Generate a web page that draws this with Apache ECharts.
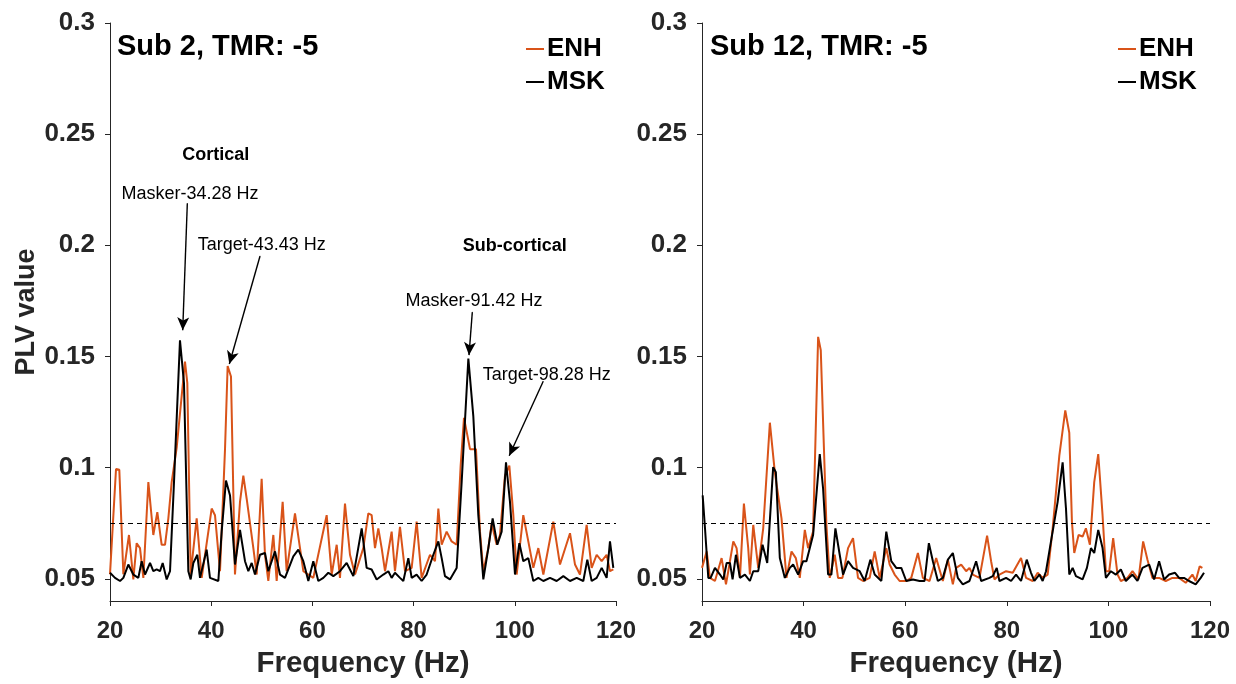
<!DOCTYPE html>
<html>
<head>
<meta charset="utf-8">
<script src="https://cdn.jsdelivr.net/npm/echarts@6/dist/echarts.min.js"></script>
<style>
html,body{margin:0;padding:0;background:#fff;}
#chart{width:1236px;height:684px;}
</style>
</head>
<body>
<div id="chart"></div>
<script>
// ---------- data (frequency Hz, PLV value) ----------
const seriesNames = ['ENH', 'MSK'];
const panelTitles = ['Sub 2, TMR: -5', 'Sub 12, TMR: -5'];
const xTicks = [20, 40, 60, 80, 100, 120];
const yTicks = [0.05, 0.1, 0.15, 0.2, 0.25, 0.3];
const chanceLevel = 0.075;

const sub2Enh = [[20.00,0.052],[21.19,0.0994],[21.84,0.099],[22.64,0.052],[23.75,0.0697],[24.61,0.0497],[25.27,0.066],[25.93,0.0638],[26.59,0.0504],[27.58,0.0935],[28.56,0.0697],[29.35,0.080],[30.21,0.0653],[30.87,0.0653],[31.53,0.0772],[32.19,0.0935],[33.18,0.109],[34.82,0.1477],[35.28,0.138],[35.94,0.052],[37.13,0.0772],[38.12,0.0504],[40.09,0.0816],[40.75,0.0786],[41.74,0.0534],[42.73,0.1083],[43.25,0.1457],[43.91,0.141],[44.70,0.0519],[45.69,0.0846],[46.35,0.0964],[47.01,0.086],[48.33,0.0638],[48.99,0.0519],[49.97,0.095],[50.63,0.0608],[51.29,0.049],[52.28,0.0697],[52.94,0.049],[54.12,0.0846],[54.91,0.0534],[56.56,0.0794],[57.55,0.0638],[58.21,0.0534],[60.18,0.0504],[62.82,0.0786],[63.81,0.0519],[64.80,0.0653],[65.45,0.0504],[66.44,0.0838],[67.43,0.0608],[68.42,0.0519],[70.06,0.0638],[71.05,0.0794],[71.71,0.0786],[72.37,0.0638],[73.03,0.0727],[73.69,0.0638],[74.35,0.0534],[75.66,0.0712],[76.32,0.0534],[77.31,0.0734],[78.30,0.0534],[79.62,0.0549],[80.60,0.0757],[81.59,0.0504],[83.24,0.0608],[84.23,0.0579],[84.89,0.0816],[85.55,0.0653],[86.53,0.0712],[87.52,0.0668],[88.51,0.0653],[89.30,0.1009],[89.96,0.1224],[91.15,0.1083],[92.33,0.1083],[93.12,0.0712],[93.78,0.0534],[94.77,0.0638],[95.43,0.0749],[96.42,0.0653],[97.07,0.0697],[98.06,0.0964],[98.92,0.1009],[99.71,0.0786],[100.37,0.0519],[101.68,0.0786],[102.67,0.0668],[103.66,0.0549],[104.65,0.0638],[105.64,0.0519],[107.61,0.0757],[108.93,0.0564],[110.91,0.0705],[111.90,0.0564],[112.88,0.0519],[114.20,0.0742],[115.19,0.0549],[116.18,0.0608],[117.17,0.0579],[118.15,0.0608],[118.81,0.0534],[119.47,0.0542]];

const sub2Msk = [[20.00,0.0527],[20.99,0.0504],[21.98,0.049],[22.64,0.0504],[23.62,0.0564],[24.61,0.0519],[25.60,0.0504],[26.26,0.0579],[26.92,0.0519],[27.91,0.0571],[28.56,0.0534],[29.22,0.0542],[29.88,0.0534],[30.41,0.0571],[31.20,0.0497],[31.86,0.0534],[32.65,0.0935],[33.83,0.1573],[34.62,0.138],[35.48,0.0534],[35.94,0.0497],[36.47,0.0571],[37.26,0.0608],[37.79,0.0504],[39.10,0.0631],[39.76,0.0504],[41.41,0.049],[42.07,0.0712],[42.92,0.0942],[43.72,0.0875],[44.70,0.0564],[45.69,0.072],[46.68,0.0579],[47.34,0.0534],[48.00,0.0571],[48.66,0.0519],[49.64,0.0608],[50.63,0.0616],[51.29,0.0534],[52.61,0.0623],[53.60,0.0519],[54.58,0.0504],[56.23,0.0601],[57.22,0.0631],[58.21,0.0579],[59.20,0.049],[60.18,0.0579],[61.17,0.049],[62.16,0.0504],[63.15,0.0527],[64.14,0.0512],[65.45,0.0534],[66.77,0.0571],[68.09,0.0512],[69.74,0.0727],[70.72,0.0549],[71.71,0.0542],[72.70,0.0497],[74.02,0.0519],[75.01,0.0534],[75.66,0.0504],[76.32,0.0527],[77.31,0.0504],[77.97,0.049],[78.96,0.0593],[79.62,0.0504],[80.60,0.0519],[81.59,0.049],[82.58,0.0519],[83.90,0.0608],[84.89,0.0668],[85.55,0.0593],[86.20,0.0512],[87.19,0.0497],[88.51,0.0549],[89.50,0.0935],[90.82,0.1491],[91.80,0.1232],[92.79,0.0786],[93.78,0.0497],[94.77,0.0638],[95.62,0.0772],[96.55,0.0653],[97.40,0.0712],[98.26,0.1024],[99.05,0.0846],[100.04,0.0519],[100.90,0.066],[101.68,0.0579],[102.67,0.0593],[103.66,0.049],[104.65,0.0504],[105.64,0.049],[106.96,0.0504],[108.27,0.049],[109.59,0.0512],[110.91,0.049],[112.23,0.0504],[113.54,0.049],[114.33,0.0586],[115.19,0.049],[116.18,0.0504],[117.17,0.0549],[118.15,0.0504],[118.81,0.0668],[119.47,0.0549]];

const sub12Enh = [[20.00,0.0549],[20.92,0.0623],[21.57,0.0504],[22.55,0.049],[23.86,0.0593],[24.72,0.0475],[25.17,0.0534],[26.16,0.0668],[26.81,0.0638],[27.47,0.0504],[28.25,0.0838],[29.10,0.0638],[29.43,0.0519],[30.09,0.0742],[31.07,0.0549],[32.05,0.0727],[33.36,0.1202],[34.34,0.0979],[35.65,0.0772],[36.63,0.0504],[37.62,0.0623],[38.47,0.0593],[39.25,0.0504],[40.24,0.072],[40.89,0.0638],[41.87,0.0712],[42.86,0.1588],[43.38,0.1528],[44.49,0.0742],[45.15,0.0504],[46.13,0.0608],[46.78,0.0504],[47.64,0.0504],[48.75,0.0638],[49.73,0.0683],[50.71,0.0504],[51.70,0.049],[53.01,0.0504],[53.99,0.0623],[54.97,0.0504],[56.28,0.0638],[56.94,0.0564],[57.92,0.0519],[58.90,0.049],[60.21,0.049],[61.19,0.0504],[62.50,0.0616],[63.48,0.0504],[64.79,0.049],[66.10,0.0593],[67.41,0.049],[68.40,0.0586],[69.38,0.0475],[70.03,0.0549],[71.02,0.0564],[72.00,0.0534],[72.65,0.0549],[73.31,0.0519],[74.62,0.0504],[76.12,0.0694],[76.91,0.0579],[77.57,0.0497],[78.55,0.0519],[79.86,0.0534],[81.17,0.0527],[82.80,0.0593],[83.79,0.0504],[85.10,0.049],[86.08,0.0527],[87.06,0.0504],[88.04,0.0519],[89.03,0.0727],[90.34,0.1054],[91.51,0.1257],[92.30,0.1157],[92.82,0.0757],[93.28,0.0616],[94.13,0.0697],[94.92,0.069],[95.57,0.0727],[96.36,0.0653],[97.21,0.0935],[98.00,0.1061],[98.85,0.0786],[99.51,0.0534],[100.16,0.0534],[100.94,0.0683],[101.80,0.0519],[102.45,0.049],[103.76,0.0504],[104.74,0.0534],[105.92,0.0497],[106.84,0.0668],[107.69,0.0586],[108.67,0.0504],[109.98,0.0504],[111.29,0.049],[112.60,0.0504],[113.91,0.0504],[115.22,0.0482],[116.53,0.0519],[117.18,0.049],[117.97,0.0556],[118.50,0.0549]];

const sub12Msk = [[20.13,0.0875],[20.59,0.0727],[21.24,0.0504],[21.70,0.0504],[22.55,0.0549],[23.54,0.0519],[24.19,0.0497],[24.85,0.0571],[25.50,0.0571],[26.02,0.0497],[26.68,0.0608],[27.47,0.0504],[28.45,0.0519],[29.43,0.049],[30.09,0.0534],[31.07,0.0534],[31.92,0.0653],[32.84,0.0571],[34.01,0.1002],[34.54,0.0979],[35.32,0.0593],[36.31,0.0504],[37.29,0.0549],[37.94,0.0564],[38.93,0.0519],[39.91,0.0579],[40.56,0.0579],[41.87,0.0697],[43.18,0.1061],[43.84,0.0905],[44.82,0.0519],[45.47,0.0519],[46.26,0.0727],[47.11,0.0608],[47.77,0.0519],[48.75,0.0579],[49.73,0.0549],[51.04,0.0534],[52.02,0.049],[53.14,0.0586],[53.99,0.0519],[55.30,0.049],[56.28,0.0712],[57.26,0.0579],[58.24,0.0549],[59.23,0.0549],[60.21,0.049],[61.52,0.0497],[62.83,0.049],[63.81,0.049],[64.66,0.066],[65.45,0.0579],[66.43,0.049],[67.41,0.0504],[68.40,0.0586],[69.38,0.0616],[70.36,0.0504],[71.34,0.0475],[72.65,0.049],[73.96,0.0579],[74.95,0.049],[76.58,0.0504],[77.24,0.0512],[78.02,0.0549],[78.55,0.049],[79.86,0.0504],[80.84,0.049],[81.82,0.0519],[82.80,0.049],[83.92,0.0586],[84.77,0.0527],[85.42,0.049],[86.41,0.0519],[87.06,0.049],[87.72,0.0534],[88.70,0.0668],[90.01,0.0846],[90.99,0.1024],[91.65,0.0816],[92.30,0.0519],[92.96,0.0549],[93.61,0.0512],[94.92,0.0497],[95.77,0.0549],[96.56,0.0638],[97.21,0.0616],[98.00,0.072],[98.85,0.0638],[99.51,0.0504],[100.49,0.0534],[101.47,0.0519],[102.45,0.0542],[103.43,0.049],[104.74,0.0519],[105.72,0.049],[106.71,0.0549],[108.02,0.0564],[109.00,0.0497],[109.98,0.0579],[110.96,0.0497],[111.95,0.0519],[113.12,0.0527],[113.91,0.0504],[114.89,0.0504],[115.87,0.049],[117.18,0.0475],[118.17,0.0504],[118.82,0.0527]];

// annotations on Sub 2 panel: [freq, value] anchors in data space
const annoTexts = ['Cortical', 'Masker-34.28 Hz', 'Target-43.43 Hz', 'Sub-cortical', 'Masker-91.42 Hz', 'Target-98.28 Hz'];
const annoBold = [true, false, false, true, false, false];
const annoPos = [[40.9, 0.2408], [35.8, 0.2229], [50.0, 0.2000], [100.0, 0.1996], [91.94, 0.1751], [106.3, 0.1417]];
const arrowFrom = [[35.28, 0.2188], [49.64, 0.1951], [91.6, 0.1699], [105.6, 0.1387]];
const arrowTo = [[34.37, 0.1618], [43.58, 0.1466], [90.95, 0.1506], [98.9, 0.1053]];

// ---------- chart ----------
const FONT = '"Liberation Sans", Arial, Helvetica, sans-serif';
const AX = '#262626';
const ORANGE = '#D95319';
const chart = echarts.init(document.getElementById('chart'), null, {renderer: 'canvas'});

function xAxisDef(i) {
  return {
    gridIndex: i, type: 'value', min: 20, max: 120, interval: 20,
    axisLine: {show: true, lineStyle: {color: AX, width: 1}},
    axisTick: {show: true, inside: false, length: 5, lineStyle: {color: AX, width: 1}},
    axisLabel: {fontSize: 24, fontWeight: 'bold', color: AX, margin: 18, fontFamily: FONT},
    splitLine: {show: false},
    name: 'Frequency (Hz)', nameLocation: 'middle', nameGap: 48,
    nameTextStyle: {fontSize: 29.5, fontWeight: 'bold', color: AX, fontFamily: FONT}
  };
}
function yAxisDef(i) {
  const a = {
    gridIndex: i, type: 'value', min: 0.04, max: 0.3,
    axisLine: {show: true, lineStyle: {color: AX, width: 1}},
    axisTick: {show: true, inside: false, length: 5, customValues: yTicks, lineStyle: {color: AX, width: 1}},
    axisLabel: {show: true, customValues: yTicks, fontSize: 26, fontWeight: 'bold', color: AX, margin: 15, fontFamily: FONT,
      formatter: v => String(v)},
    splitLine: {show: false}
  };
  if (i === 0) {
    a.name = 'PLV value';
    a.nameLocation = 'middle';
    a.nameGap = 68;
    a.nameTextStyle = {fontSize: 27, fontWeight: 'bold', color: AX, fontFamily: FONT};
  }
  return a;
}

const dataSets = [[sub2Enh, sub2Msk], [sub12Enh, sub12Msk]];
const series = [];
[0, 1].forEach(p => {
  [0, 1].forEach(s => {
    const ser = {
      name: seriesNames[s], type: 'line',
      xAxisIndex: p, yAxisIndex: p,
      data: dataSets[p][s],
      showSymbol: false, symbol: 'none', smooth: false,
      lineStyle: {color: s === 0 ? ORANGE : '#000', width: 2},
      itemStyle: {color: s === 0 ? ORANGE : '#000'},
      silent: true, z: 2 + s
    };
    if (s === 1) {
      ser.markLine = {
        silent: true, symbol: 'none', animation: false, precision: 6,
        label: {show: false},
        lineStyle: {color: '#000', width: 1, type: [5, 4]},
        data: [{yAxis: chanceLevel}]
      };
    }
    if (p === 0 && s === 0) {
      ser.markLine = {
        silent: true, animation: false, precision: 6,
        symbol: ['circle', 'arrow'], symbolSize: [1, 12],
        label: {show: false},
        lineStyle: {color: '#000', width: 1.4, type: 'solid'},
        itemStyle: {color: '#000'},
        data: arrowFrom.map((f, k) => [
          {coord: f, symbol: 'circle', symbolSize: 1, itemStyle: {color: '#000'}},
          {coord: arrowTo[k], symbol: 'arrow', symbolSize: [9, 13], itemStyle: {color: '#000'}}
        ])
      };
      ser.markPoint = {
        silent: true, animation: false,
        symbol: 'circle', symbolSize: 1, itemStyle: {color: 'rgba(0,0,0,0)'},
        data: annoPos.map((c, k) => ({
          coord: c,
          label: {show: true, position: 'inside', formatter: annoTexts[k],
            fontSize: 18, fontWeight: annoBold[k] ? 'bold' : 'normal', color: '#000', fontFamily: FONT}
        }))
      };
    }
    series.push(ser);
  });
});

const legendDef = (left) => ({
  data: seriesNames, left: left, top: 31, orient: 'vertical',
  icon: 'rect', itemWidth: 18, itemHeight: 2, itemGap: 7,
  selectedMode: false,
  textStyle: {fontSize: 26, fontWeight: 'bold', color: '#000', fontFamily: FONT, padding: [0, 0, 0, -2]}
});

chart.setOption({
  animation: false,
  backgroundColor: '#fff',
  title: [
    {text: panelTitles[0], left: 117, top: 32, padding: 0, textStyle: {fontSize: 29, fontWeight: 'bold', color: '#000', fontFamily: FONT}},
    {text: panelTitles[1], left: 710, top: 32, padding: 0, textStyle: {fontSize: 29, fontWeight: 'bold', color: '#000', fontFamily: FONT}}
  ],
  legend: [legendDef(521), legendDef(1113)],
  grid: [
    {left: 110, top: 23, width: 506, height: 584},
    {left: 702, top: 23, width: 508, height: 584}
  ],
  xAxis: [xAxisDef(0), xAxisDef(1)],
  yAxis: [yAxisDef(0), yAxisDef(1)],
  series: series
});
</script>
</body>
</html>
